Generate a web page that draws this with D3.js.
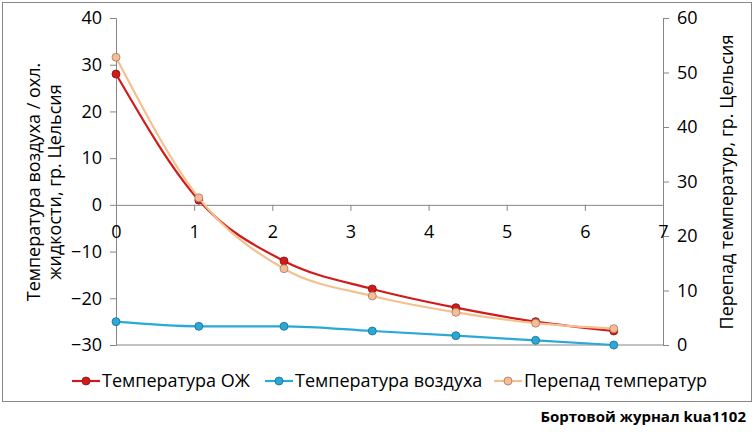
<!DOCTYPE html><html><head><meta charset="utf-8"><script src="https://cdn.jsdelivr.net/npm/d3@7"></script>
<style>body{margin:0;background:#fff}text{font-family:"Liberation Sans Narrow","Open Sans",sans-serif}</style></head><body><svg id="c" width="755" height="433"></svg><script>
const xs=[0,1.06,2.15,3.28,4.35,5.37,6.37];
const coolant=[28,1,-12,-18,-22,-25,-27];
const air=[-25,-26,-26,-27,-28,-29,-30];
const diff=[52.8,27,14,9,6,4,3];
const xTicks=[0,1,2,3,4,5,6,7];
const yLeftTicks=[-30,-20,-10,0,10,20,30,40];
const yRightTicks=[0,10,20,30,40,50,60];
const F="'Liberation Sans Narrow','Open Sans',sans-serif";
const svg=d3.select("#c");
svg.append("rect").attr("x",2.5).attr("y",2.5).attr("width",749).attr("height",399).attr("fill","#fff").attr("stroke","#888");
const x=d3.scaleLinear().domain([0,7]).range([116,663]);
const yl=d3.scaleLinear().domain([-30,40]).range([345,18]);
const yr=d3.scaleLinear().domain([0,60]).range([345,18]);
const fmt=d3.format("d");
const la=svg.append("g").attr("transform","translate(116,0)").call(d3.axisLeft(yl).tickValues(yLeftTicks).tickFormat(fmt).tickSize(6).tickPadding(8));
const ra=svg.append("g").attr("transform","translate(663,0)").call(d3.axisRight(yr).tickValues(yRightTicks).tickFormat(fmt).tickSize(6).tickPadding(8));
const xa=svg.append("g").attr("transform",`translate(0,${yl(0)})`).call(d3.axisBottom(x).tickValues(xTicks).tickFormat(fmt).tickSize(6).tickPadding(14));
[la,ra,xa].forEach(g=>{g.selectAll("path,line").attr("stroke","#868686");g.selectAll("text").attr("font-size",18).attr("fill","#000").style("font-family",F);});
svg.append("line").attr("x1",116).attr("x2",663).attr("y1",345).attr("y2",345).attr("stroke","#868686");
const line=(ys,s)=>d3.line().x((d,i)=>x(xs[i])).y(d=>s(d)).curve(d3.curveMonotoneX)(ys);
function series(ys,s,col,fill){
 svg.append("path").attr("d",line(ys,s)).attr("fill","none").attr("stroke",col).attr("stroke-width",2.2);
 svg.selectAll(null).data(ys).enter().append("circle").attr("cx",(d,i)=>x(xs[i])).attr("cy",d=>s(d)).attr("r",4).attr("fill",fill).attr("stroke",d3.color(fill).darker(1.2)).attr("stroke-width",0.8);
}
series(air,yl,"#2aa8d8","#2aa8d8");
series(coolant,yl,"#d11a1a","#d11a1a");
series(diff,yr,"#f5c08f","#f5bc96");
svg.append("text").attr("transform","translate(40,182) rotate(-90)").attr("text-anchor","middle").attr("font-size",18).selectAll("tspan").data(["Температура воздуха / охл.","жидкости, гр. Цельсия"]).enter().append("tspan").attr("x",0).attr("dy",(d,i)=>i?21:0).text(d=>d);
svg.append("text").attr("transform","translate(733,182) rotate(-90)").attr("text-anchor","middle").attr("font-size",18).text("Перепад температур, гр. Цельсия");
const leg=[["Температура ОЖ","#d11a1a","#d11a1a",72],["Температура воздуха","#2aa8d8","#2aa8d8",265],["Перепад температур","#f5c08f","#f5bc96",494]];
leg.forEach(([t,c,f,lx])=>{svg.append("line").attr("x1",lx).attr("x2",lx+28).attr("y1",381).attr("y2",381).attr("stroke",c).attr("stroke-width",2.2);
svg.append("circle").attr("cx",lx+14).attr("cy",381).attr("r",4).attr("fill",f).attr("stroke",d3.color(f).darker(1.2)).attr("stroke-width",0.8);
svg.append("text").attr("x",lx+30).attr("y",387).attr("font-size",18).text(t);});
svg.append("text").attr("x",746).attr("y",422).attr("text-anchor","end").attr("font-size",15).attr("font-weight","bold").text("Бортовой журнал kua1102");
</script></body></html>
